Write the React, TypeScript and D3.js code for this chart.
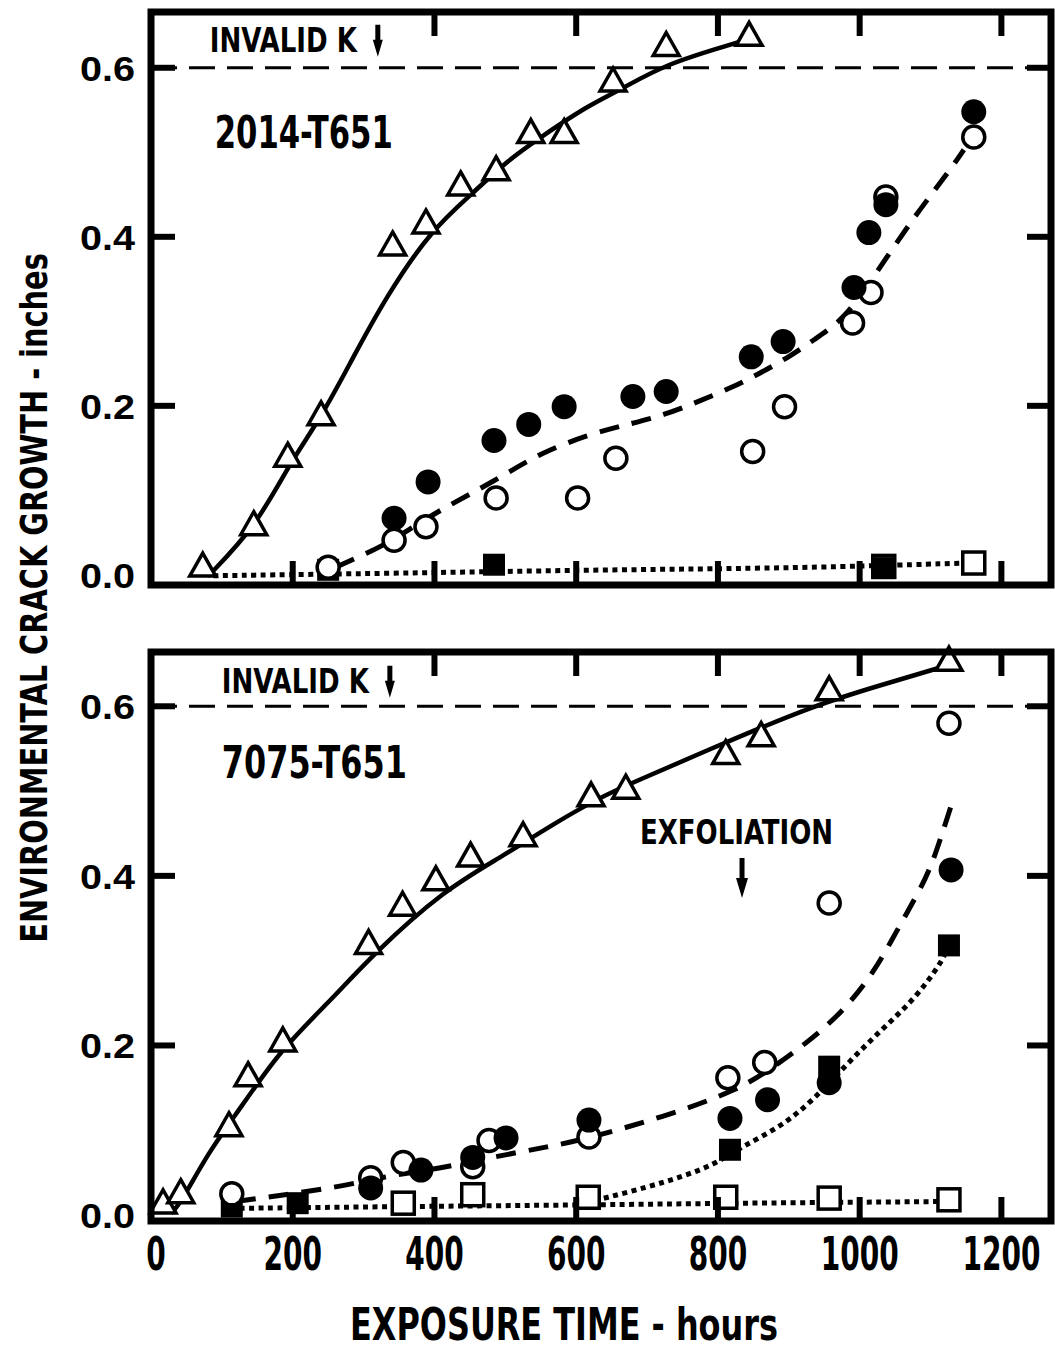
import * as d3 from "d3";
import { useLayoutEffect, useRef, useState } from "react";

type Pt = [number, number];

// axis ticks
const X_TICKS = [0, 200, 400, 600, 800, 1000, 1200];
const Y_TICKS = [0, 0.2, 0.4, 0.6];
const INVALID_K = 0.6;

// ---- 2014-T651 (hours, inches) ----
const triangles2014: Pt[] = [
  [73, 0.008], [145, 0.057], [193, 0.138], [240, 0.187], [341, 0.388], [388, 0.414],
  [437, 0.459], [487, 0.477], [536, 0.521], [583, 0.521], [652, 0.582], [727, 0.624], [844, 0.636],
];
const triangleFit2014: Pt[] = [
  [80, -0.002], [148, 0.057], [197, 0.134], [240, 0.186], [285, 0.257], [331, 0.328],
  [395, 0.408], [456, 0.453], [504, 0.491], [550, 0.518], [618, 0.556], [663, 0.574],
  [724, 0.604], [828, 0.63],
];
const filledCircles2014: Pt[] = [
  [343, 0.067], [391, 0.11], [484, 0.159], [533, 0.178], [583, 0.199], [680, 0.211],
  [727, 0.217], [847, 0.258], [892, 0.276], [992, 0.34], [1013, 0.405], [1037, 0.438], [1161, 0.548],
];
const openCircles2014: Pt[] = [
  [250, 0.009], [343, 0.041], [388, 0.057], [487, 0.091], [602, 0.091], [656, 0.138],
  [849, 0.146], [894, 0.199], [990, 0.298], [1016, 0.334], [1037, 0.447], [1161, 0.518],
];
const circleFit2014: Pt[] = [
  [261, 0.009], [292, 0.021], [324, 0.033], [363, 0.053], [409, 0.077], [456, 0.098],
  [504, 0.121], [550, 0.144], [617, 0.166], [673, 0.178], [724, 0.189], [772, 0.205],
  [818, 0.221], [856, 0.237], [899, 0.257], [935, 0.278], [978, 0.302], [1020, 0.353],
  [1077, 0.424], [1125, 0.476], [1147, 0.503],
];
const filledSquares2014: Pt[] = [[250, 0.006], [484, 0.012], [1034, 0.008]];
const openSquares2014: Pt[] = [[1034, 0.01], [1161, 0.014]];
const squareFit2014: Pt[] = [[88, -0.001], [353, 0.002], [635, 0.006], [917, 0.008], [1150, 0.014]];

// ---- 7075-T651 (hours, inches) ----
const triangles7075: Pt[] = [
  [17, 0.012], [42, 0.024], [110, 0.103], [137, 0.162], [186, 0.203], [307, 0.318],
  [355, 0.363], [402, 0.393], [451, 0.421], [525, 0.445], [621, 0.492], [670, 0.501],
  [811, 0.542], [861, 0.563], [957, 0.617], [1126, 0.652],
];
const triangleFit7075: Pt[] = [
  [28, 0.002], [42, 0.014], [80, 0.073], [127, 0.127], [183, 0.195], [250, 0.25],
  [315, 0.309], [413, 0.383], [494, 0.422], [569, 0.462], [635, 0.493], [677, 0.509],
  [818, 0.56], [936, 0.601], [1030, 0.625], [1115, 0.646],
];
const filledCircles7075: Pt[] = [
  [310, 0.032], [381, 0.053], [454, 0.068], [501, 0.091], [618, 0.112], [817, 0.114],
  [870, 0.136], [957, 0.156], [1129, 0.407],
];
const openCircles7075: Pt[] = [
  [114, 0.025], [310, 0.044], [356, 0.062], [454, 0.057], [477, 0.088], [618, 0.092],
  [814, 0.162], [866, 0.18], [957, 0.368], [1126, 0.58],
];
const circleFit7075: Pt[] = [
  [120, 0.016], [268, 0.033], [324, 0.045], [409, 0.055], [480, 0.068], [550, 0.079],
  [607, 0.088], [724, 0.116], [828, 0.147], [879, 0.175], [927, 0.204], [974, 0.238],
  [1020, 0.285], [1058, 0.344], [1096, 0.399], [1115, 0.446], [1133, 0.493],
];
const filledSquares7075: Pt[] = [[114, 0.01], [207, 0.014], [817, 0.077], [957, 0.175], [1126, 0.318]];
const openSquares7075: Pt[] = [[356, 0.014], [454, 0.024], [617, 0.021], [811, 0.021], [957, 0.02], [1126, 0.018]];
const filledSquareFit7075: Pt[] = [
  [600, 0.012], [645, 0.021], [701, 0.033], [748, 0.045], [794, 0.059], [832, 0.08],
  [889, 0.104], [935, 0.136], [983, 0.179], [1030, 0.218], [1077, 0.254], [1115, 0.297], [1126, 0.318],
];
const openSquareFit7075: Pt[] = [[125, 0.008], [350, 0.01], [620, 0.012], [820, 0.014], [1126, 0.016]];

const W = 1055;
const H = 1351;
const xScale = d3.scaleLinear().domain([0, 1270]).range([151, 1051]);

const narrow = "'Liberation Sans Narrow', 'DejaVu Sans Condensed', Arial, sans-serif";
const wide = "'Liberation Sans', Arial, sans-serif";

const triPath = "M0,-15L13,8L-13,8Z";

// squeezes a bold text horizontally to a given width (condensed gothic look)
function FitText({ x, y, width, size, anchor = "start", rotate = 0, family = narrow, children }: {
  x: number; y: number; width: number; size: number; anchor?: string; rotate?: number; family?: string; children: string;
}) {
  const ref = useRef<SVGTextElement>(null);
  const [k, setK] = useState(0.8);
  useLayoutEffect(() => {
    if (ref.current) {
      const w = ref.current.getComputedTextLength();
      if (w > 0) setK(width / w);
    }
  }, [width, children]);
  return (
    <text ref={ref} transform={`translate(${x},${y}) rotate(${rotate}) scale(${k},1)`} textAnchor={anchor}
      fontFamily={family} fontWeight="bold" fontSize={size}>{children}</text>
  );
}

type PanelProps = {
  yDomain: [number, number];
  yRange: [number, number];
  title: string;
  titleAt: Pt;
  titleWidth: number;
  invalidAt: Pt;
  triangles: Pt[];
  triangleFit: Pt[];
  filledCircles: Pt[];
  openCircles: Pt[];
  circleFit: Pt[];
  filledSquares: Pt[];
  openSquares: Pt[];
  dottedFits: Pt[][];
  children?: (y: d3.ScaleLinear<number, number>) => any;
};

function arrowDown(ax: number, top: number, bot: number, shaft: number, head: number, headLen: number) {
  return `M${ax - shaft / 2},${top}L${ax + shaft / 2},${top}L${ax + shaft / 2},${bot - headLen}` +
    `L${ax + head / 2},${bot - headLen}L${ax},${bot}L${ax - head / 2},${bot - headLen}L${ax - shaft / 2},${bot - headLen}Z`;
}

function Panel(p: PanelProps) {
  const y = d3.scaleLinear().domain(p.yDomain).range(p.yRange);
  const [x0, x1] = xScale.range();
  const [yb, yt] = p.yRange;
  const line = d3.line<Pt>().x(d => xScale(d[0])).y(d => y(d[1])).curve(d3.curveBasis);
  const ix = xScale(p.invalidAt[0]);
  const iy = y(p.invalidAt[1]);
  const ax = ix + 168;

  return (
    <g>
      {/* fitted curves */}
      <path d={line(p.triangleFit)!} fill="none" stroke="#000" strokeWidth={4.5} />
      <path d={line(p.circleFit)!} fill="none" stroke="#000" strokeWidth={5} strokeDasharray="20 13" />
      {p.dottedFits.map((f, i) => (
        <path key={i} d={line(f)!} fill="none" stroke="#000" strokeWidth={5} strokeDasharray="5 4.5" />
      ))}

      {/* invalid K limit */}
      <line x1={x0} x2={x1} y1={y(INVALID_K)} y2={y(INVALID_K)} stroke="#000" strokeWidth={3} strokeDasharray="26 12" />
      <FitText x={ix} y={iy} width={147} size={34}>INVALID K</FitText>
      <path d={arrowDown(ax, iy - 27, iy + 5, 5, 10, 17)} fill="#000" />

      <FitText x={xScale(p.titleAt[0])} y={y(p.titleAt[1])} width={p.titleWidth} size={45}>{p.title}</FitText>

      {/* markers */}
      {p.openSquares.map((d, i) => (
        <rect key={i} x={xScale(d[0]) - 11} y={y(d[1]) - 11} width={22} height={22} fill="#fff" stroke="#000" strokeWidth={3.5} />
      ))}
      {p.filledSquares.map((d, i) => (
        <rect key={i} x={xScale(d[0]) - 11} y={y(d[1]) - 11} width={22} height={22} fill="#000" />
      ))}
      {p.openCircles.map((d, i) => (
        <circle key={i} cx={xScale(d[0])} cy={y(d[1])} r={11} fill="#fff" stroke="#000" strokeWidth={3.5} />
      ))}
      {p.filledCircles.map((d, i) => (
        <circle key={i} cx={xScale(d[0])} cy={y(d[1])} r={12.5} fill="#000" />
      ))}
      {p.triangles.map((d, i) => (
        <path key={i} d={triPath} transform={`translate(${xScale(d[0])},${y(d[1])})`} fill="#fff" stroke="#000" strokeWidth={3.5} />
      ))}

      {p.children && p.children(y)}

      {/* frame + inward ticks */}
      <rect x={x0} y={yt} width={x1 - x0} height={yb - yt} fill="none" stroke="#000" strokeWidth={7} />
      {X_TICKS.filter(t => t > 0).map(t => (
        <line key={"b" + t} x1={xScale(t)} x2={xScale(t)} y1={yb} y2={yb - 24} stroke="#000" strokeWidth={6} />
      ))}
      {X_TICKS.filter(t => t > 200).map(t => (
        <line key={"t" + t} x1={xScale(t)} x2={xScale(t)} y1={yt} y2={yt + 24} stroke="#000" strokeWidth={6} />
      ))}
      {Y_TICKS.filter(t => t > 0).map(t => (
        <g key={"y" + t}>
          <line x1={x0} x2={x0 + 24} y1={y(t)} y2={y(t)} stroke="#000" strokeWidth={6} />
          <line x1={x1} x2={x1 - 24} y1={y(t)} y2={y(t)} stroke="#000" strokeWidth={6} />
        </g>
      ))}
      {Y_TICKS.map(t => (
        <FitText key={"l" + t} x={135} y={y(t) + 13} anchor="end" family={wide} width={55} size={36}>
          {t.toFixed(1)}
        </FitText>
      ))}
    </g>
  );
}

export default function App() {
  return (
    <svg width={W} height={H} viewBox={`0 0 ${W} ${H}`}
      style={{ position: "absolute", left: 0, top: 0, background: "#fff" }}>
      <rect width={W} height={H} fill="#fff" />
      <Panel
        yDomain={[-0.012, 0.666]} yRange={[585, 12]}
        title="2014-T651" titleAt={[90, 0.505]} titleWidth={178}
        invalidAt={[83, 0.619]}
        triangles={triangles2014} triangleFit={triangleFit2014}
        filledCircles={filledCircles2014} openCircles={openCircles2014} circleFit={circleFit2014}
        filledSquares={filledSquares2014} openSquares={openSquares2014}
        dottedFits={[squareFit2014]}
      />
      <Panel
        yDomain={[-0.007, 0.664]} yRange={[1221, 652]}
        title="7075-T651" titleAt={[100, 0.515]} titleWidth={185}
        invalidAt={[100, 0.616]}
        triangles={triangles7075} triangleFit={triangleFit7075}
        filledCircles={filledCircles7075} openCircles={openCircles7075} circleFit={circleFit7075}
        filledSquares={filledSquares7075} openSquares={openSquares7075}
        dottedFits={[openSquareFit7075, filledSquareFit7075]}
      >
        {(y) => {
          const ex = xScale(834);
          return (
            <g>
              <FitText x={ex - 102} y={y(0.438)} width={193} size={33}>EXFOLIATION</FitText>
              <path d={arrowDown(ex, y(0.421), y(0.374), 5, 12, 20)} fill="#000" />
            </g>
          );
        }}
      </Panel>

      {/* x tick labels */}
      {X_TICKS.map(t => (
        <FitText key={t} x={xScale(t) + (t === 0 ? 5 : 0)} y={1270} anchor="middle" size={46}
          width={String(t).length * 19.5}>{String(t)}</FitText>
      ))}
      <FitText x={564} y={1340} anchor="middle" size={45} width={428}>EXPOSURE TIME - hours</FitText>
      <FitText x={47} y={598} anchor="middle" rotate={-90} size={38} width={690}>
        ENVIRONMENTAL CRACK GROWTH - inches
      </FitText>
    </svg>
  );
}
